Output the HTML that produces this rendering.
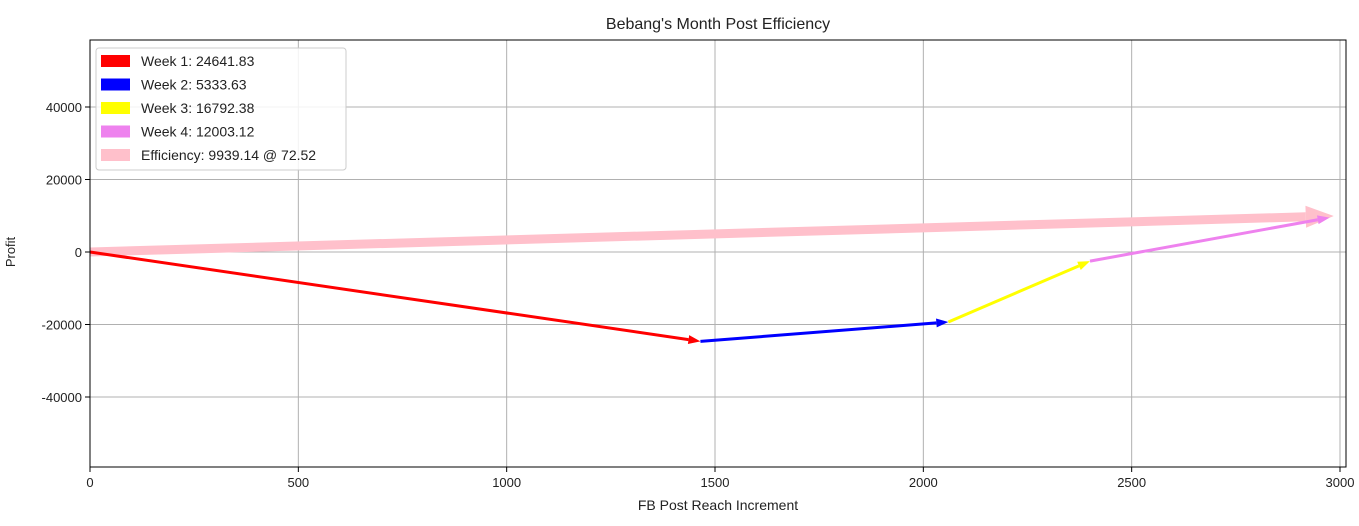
<!DOCTYPE html>
<html><head><meta charset="utf-8"><style>
body{margin:0;background:#fff;width:1359px;height:521px;overflow:hidden;font-family:"Liberation Sans",sans-serif}
svg text{font-family:"Liberation Sans",sans-serif;fill:#222}
</style></head><body>
<svg id="chart" width="1359" height="521"></svg>
<script>
const xTicks=[0,500,1000,1500,2000,2500,3000];
const yTicks=[-40000,-20000,0,20000,40000];
const weekNames=["Week 1: 24641.83","Week 2: 5333.63","Week 3: 16792.38","Week 4: 12003.12"];
const weekX=[0,1465,2060,2400,2975];
const weekY=[0,-24641.83,-19308.2,-2515.82,9487.3];
const weekColors=["#ff0000","#0000ff","#ffff00","#ee82ee"];
const effLabel="Efficiency: 9939.14 @ 72.52";
const effEnd=[2985,9939.14];

const L=90,R=1346,T=40,B=467;
const X=v=>L+v*(1340-90)/3000;
const Y=v=>252-v*72.5/20000;
const svg=document.getElementById('chart');
const NS='http://www.w3.org/2000/svg';
function mk(tag,attrs,parent){const e=document.createElementNS(NS,tag);for(const k in attrs)e.setAttribute(k,attrs[k]);(parent||svg).appendChild(e);return e;}

const t=mk('text',{x:718,y:29,'text-anchor':'middle','font-size':16});t.textContent="Bebang's Month Post Efficiency";



xTicks.forEach(v=>{
 const g=mk('line',{x1:X(v),x2:X(v),y1:T,y2:B,stroke:'#b0b0b0','stroke-width':1});
 
 
 mk('line',{x1:X(v),x2:X(v),y1:B,y2:B+5,stroke:'#000'});
 const l=mk('text',{x:X(v),y:B+20,'text-anchor':'middle','font-size':13});l.textContent=v;
 
 
});
yTicks.forEach(v=>{
 const g=mk('line',{x1:L,x2:R,y1:Y(v),y2:Y(v),stroke:'#b0b0b0','stroke-width':1});
 
 
 mk('line',{x1:L-5,x2:L,y1:Y(v),y2:Y(v),stroke:'#000'});
 const l=mk('text',{x:L-8,y:Y(v)+5,'text-anchor':'end','font-size':13});l.textContent=v;
 
 
});
const xt=mk('text',{x:718,y:510,'text-anchor':'middle','font-size':14});xt.textContent='FB Post Reach Increment';


const yt=mk('text',{x:15,y:252,'text-anchor':'middle','font-size':13,transform:'rotate(-90 15 252)'});yt.textContent='Profit';



function arrow(x0,y0,x1,y1,color,w,hl,hw,name){
 const dx=x1-x0,dy=y1-y0,len=Math.hypot(dx,dy),ux=dx/len,uy=dy/len,px=-uy,py=ux;
 const bx=x1-ux*hl,by=y1-uy*hl;
 const g=mk('g',{});
 
 
 mk('line',{x1:x0,y1:y0,x2:bx,y2:by,stroke:color,'stroke-width':w},g);
 mk('polygon',{points:`${x1},${y1} ${bx+px*hw},${by+py*hw} ${bx-px*hw},${by-py*hw}`,fill:color},g);
}
arrow(X(0),Y(0),X(effEnd[0]),Y(effEnd[1]),'#ffc0cb',9,28,11,'efficiency-arrow');
for(let i=0;i<4;i++){
 arrow(X(weekX[i]),Y(weekY[i]),X(weekX[i+1]),Y(weekY[i+1]),weekColors[i],3,12,4.5,'week-'+(i+1)+'-arrow');
}
const fr=mk('rect',{x:L,y:T,width:R-L,height:B-T,fill:'none',stroke:'#000','stroke-width':1});



const lg=mk('g',{});


mk('rect',{x:96,y:48,width:250,height:122,rx:3,fill:'#fff','fill-opacity':0.85,stroke:'#ccc'},lg);
const labels=weekNames.concat([effLabel]);
const cols=weekColors.concat(['#ffc0cb']);
labels.forEach((s,i)=>{
 const y=61+i*23.5;
 const e=mk('g',{},lg);
 
 
 mk('rect',{x:101,y:y-6,width:29,height:12,fill:cols[i]},e);
 const tx=mk('text',{x:141,y:y+5,'font-size':14},e);tx.textContent=s;
});
</script>
</body></html>
